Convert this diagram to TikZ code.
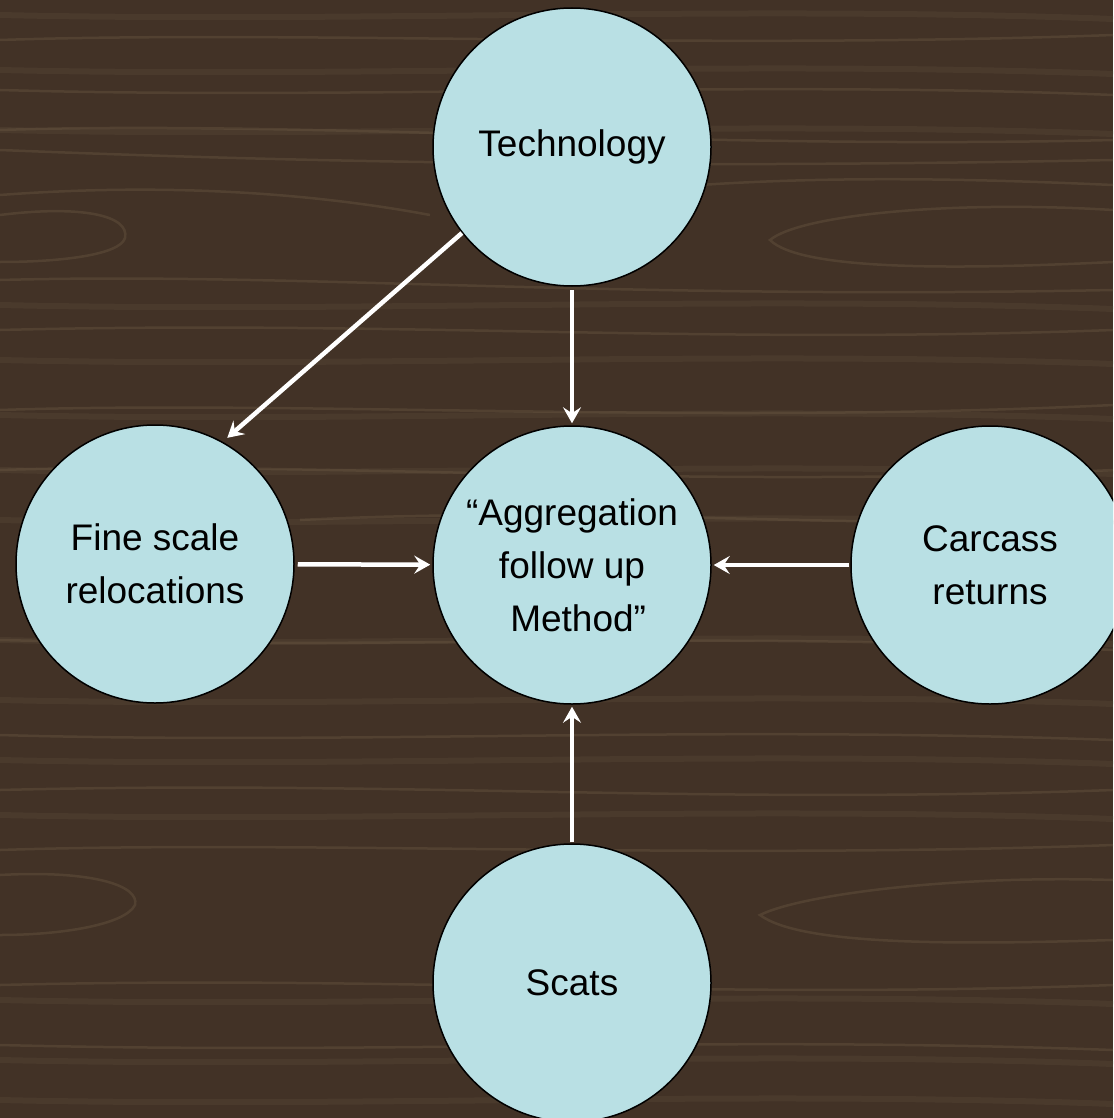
\documentclass[tikz,border=0pt]{standalone}
\usepackage{fontspec}
\setmainfont{Liberation Sans}
\usetikzlibrary{arrows.meta}
\definecolor{wood}{RGB}{66,50,38}
\definecolor{woodgrain}{RGB}{112,94,72}
\definecolor{woodlight}{RGB}{84,68,52}
\definecolor{bubble}{RGB}{185,224,228}
\tikzset{
  bubble/.style={circle, draw=black, line width=1.5pt, fill=bubble, minimum size=278pt,
    inner sep=0pt, align=center, font=\fontsize{37}{53}\selectfont, text=black},
  flow/.style={draw=white, line width=4.5pt, -{Stealth[length=16pt,width=18pt,inset=6pt]}},
  grain/.style={draw=woodgrain, line width=2.5pt, opacity=0.35},
  grainsoft/.style={draw=woodlight, line width=6pt, opacity=0.45}
}
\begin{document}
\begin{tikzpicture}[x=1pt,y=-1pt]
\useasboundingbox (0,0) rectangle (1113,1118);
\clip (0,0) rectangle (1113,1118);
\fill[wood] (0,0) rectangle (1113,1118);
% wood grain
\foreach \yy in {15,70,130,305,360,415,470,520,640,700,760,815,1000,1060,1100}{
  \draw[grainsoft] (0,\yy) .. controls (350,\yy+8) and (750,\yy-10) .. (1113,\yy+4);
}
\draw[grain] (0,130) .. controls (300,120) and (700,150) .. (1113,140);
\draw[grain] (0,150) .. controls (250,160) and (600,170) .. (1113,160);
\draw[grain] (0,215) .. controls (80,205) and (130,215) .. (125,238) .. controls (120,255) and (60,262) .. (0,262);
\draw[grain] (0,195) .. controls (200,180) and (350,200) .. (430,215);
\draw[grain] (0,280) .. controls (300,272) and (600,300) .. (1113,290);
\draw[grain] (1113,210) .. controls (950,200) and (800,215) .. (770,240) .. controls (800,270) and (950,270) .. (1113,262);
\draw[grain] (700,185) .. controls (850,175) and (1000,180) .. (1113,185);
\draw[grain] (0,330) .. controls (400,320) and (700,345) .. (1113,330);
\draw[grain] (0,410) .. controls (300,400) and (700,425) .. (1113,405);
\draw[grain] (0,470) .. controls (300,460) and (700,490) .. (1113,470);
\draw[grain] (300,520) .. controls (600,505) and (850,530) .. (1113,520);
\draw[grain] (0,640) .. controls (400,650) and (700,630) .. (1113,650);
\draw[grain] (0,735) .. controls (350,745) and (700,725) .. (1113,740);
\draw[grain] (0,790) .. controls (400,780) and (700,805) .. (1113,790);
\draw[grain] (0,850) .. controls (300,840) and (700,860) .. (1113,845);
\draw[grain] (0,875) .. controls (90,870) and (140,885) .. (135,905) .. controls (125,925) and (60,935) .. (0,935);
\draw[grain] (1113,880) .. controls (950,875) and (800,895) .. (760,915) .. controls (800,945) and (950,945) .. (1113,940);
\draw[grain] (0,985) .. controls (400,975) and (700,1000) .. (1113,985);
\draw[grain] (0,1045) .. controls (400,1055) and (700,1035) .. (1113,1050);
\draw[grain] (0,40) .. controls (300,30) and (700,50) .. (1113,35);
\draw[grain] (0,90) .. controls (350,100) and (750,80) .. (1113,95);

% nodes
\node[bubble] (tech) at (572,147) {Technology};
\node[bubble] (fine) at (155,564) {Fine scale\\relocations};
\node[bubble] (agg) at (572,565) {“Aggregation\\follow up\\\hphantom{”}Method”};
\node[bubble] (carc) at (990,565) {Carcass\\returns};
\node[bubble] (scats) at (572,983) {Scats};

% connectors
\draw[flow, shorten <=0pt, shorten >=6pt] (tech.218) -- (fine.61);
\draw[flow, shorten <=3pt, shorten >=2pt] (tech) -- (agg);
\draw[flow, shorten <=3pt, shorten >=2pt] (fine) -- (agg);
\draw[flow, shorten <=1pt, shorten >=2pt] (carc) -- (agg);
\draw[flow, shorten <=1pt, shorten >=2pt] (scats) -- (agg);
\end{tikzpicture}
\end{document}
